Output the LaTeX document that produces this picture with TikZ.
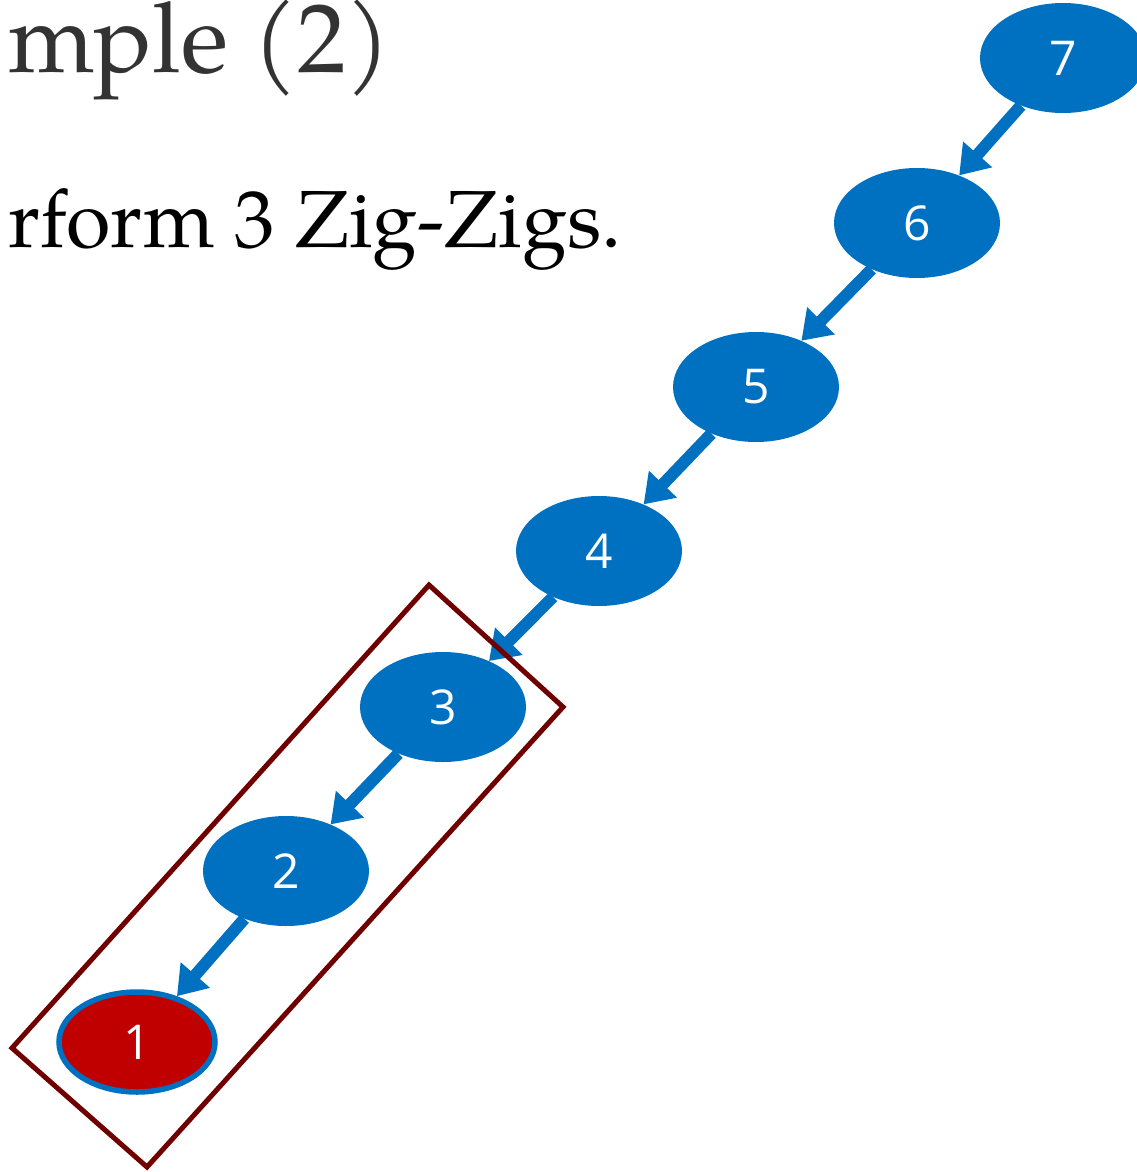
\documentclass[tikz,border=0pt]{standalone}
\usepackage{fontspec}
\setsansfont{Open Sans}
\newfontfamily\slidefont{TeX Gyre Pagella}
\usetikzlibrary{arrows.meta,shapes.geometric}
\definecolor{blue}{HTML}{0070C0}
\definecolor{red}{HTML}{C00000}
\definecolor{darkred}{HTML}{700000}
\definecolor{titlegray}{HTML}{333333}

\begin{document}
\begin{tikzpicture}[x=1pt,y=-1pt,
  key/.style={ellipse,fill=blue,text=white,inner sep=0pt,minimum width=166pt,minimum height=110pt,font=\sffamily\fontsize{48}{48}\selectfont},
  link/.style={blue,line width=12pt,-{Triangle[length=28pt,width=37pt]}}]
\clip (0,0) rectangle (1137,1172);
\node[anchor=base east,inner sep=0pt,text=titlegray,font=\slidefont\fontsize{98}{98}\selectfont] (title) at (391,73) {mple (2)};
\node[anchor=base east,inner sep=0pt,font=\slidefont\fontsize{81}{81}\selectfont] (task) at (622,247) {rform 3 Zig-Zigs.};
\foreach \n/\x/\y in {7/1063/58,6/917/223,5/756/387,4/599/551,3/443/707,2/286/871}
  \node[key] (n\n) at (\x,\y) {\n};
\node[key,fill=red,draw=blue,line width=5.5pt,minimum width=156pt,minimum height=100pt] (n1) at (137,1042) {1};
\foreach \a/\b in {7/6,6/5,5/4,4/3,3/2,2/1}
  \draw[link] (n\a) -- (n\b);
% the three nodes of the first zig-zig
\draw[darkred,line width=5pt] (429,585) -- (563,707) -- (147,1167) -- (12,1048) -- cycle;
\end{tikzpicture}
\end{document}
